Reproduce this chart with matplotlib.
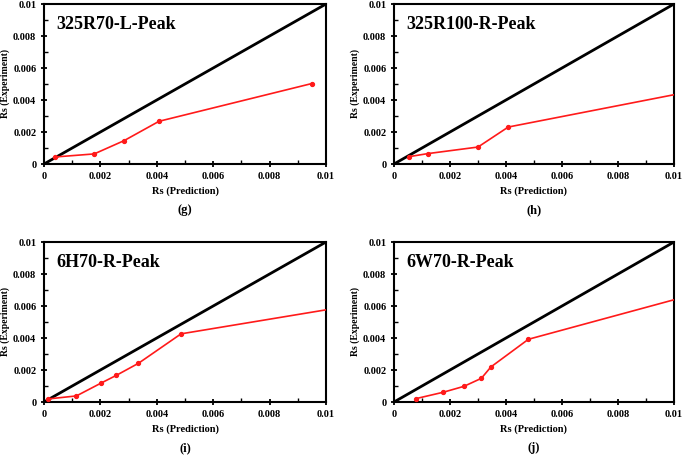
import matplotlib
matplotlib.use('Agg')
import matplotlib.pyplot as plt
from matplotlib.ticker import MultipleLocator, FixedFormatter, FixedLocator
import numpy as np

plt.rcParams['font.family'] = ['Liberation Serif', 'DejaVu Serif']
plt.rcParams['font.weight'] = 'bold'

titles = ['325R70-L-Peak', '325R100-R-Peak', '6H70-R-Peak', '6W70-R-Peak']
captions = ['(g)', '(h)', '(i)', '(j)']

# predicted vs experimental Rs, last point is where the line leaves the frame
g_x = [0.0004, 0.00178, 0.00284, 0.00408, 0.0095]
g_y = [0.00044, 0.00063, 0.00146, 0.00267, 0.00503]
h_x = [0.00054, 0.00121, 0.0030, 0.00408, 0.01]
h_y = [0.00046, 0.00065, 0.00106, 0.00231, 0.00433]
i_x = [0.00014, 0.00115, 0.00201, 0.00257, 0.00335, 0.00486, 0.01]
i_y = [0.00019, 0.00038, 0.00117, 0.00167, 0.00242, 0.00426, 0.00576]
j_x = [0.00078, 0.00176, 0.0025, 0.00312, 0.00346, 0.0048, 0.01]
j_y = [0.00021, 0.00061, 0.00098, 0.00148, 0.00219, 0.00392, 0.00639]
markers_on = [5, 4, 6, 6]

tick_vals = [0, 0.002, 0.004, 0.006, 0.008, 0.01]
tick_labels = ['0', '0.002', '0.004', '0.006', '0.008', '0.01']

series = [(g_x, g_y), (h_x, h_y), (i_x, i_y), (j_x, j_y)]
boxes = [
    [44/685, 1-164/457, 282/685, 160/457],
    [394/685, 1-164/457, 280/685, 160/457],
    [44/685, 1-402/457, 282/685, 160/457],
    [394/685, 1-402/457, 280/685, 160/457],
]

fig = plt.figure(figsize=(6.85, 4.57), dpi=100)

for k in range(4):
    ax = fig.add_axes(boxes[k])
    xs, ys = series[k]
    ax.plot([0, 0.01], [0, 0.01], color='black', lw=2.0, zorder=2)
    ax.plot(xs, ys, color='#ff1a1a', lw=1.2, marker='o', ms=2.8,
            markevery=list(range(markers_on[k])), zorder=3, clip_on=True)
    ax.set_xlim(0, 0.01)
    ax.set_ylim(0, 0.01)
    ax.xaxis.set_major_locator(FixedLocator(tick_vals))
    ax.xaxis.set_major_formatter(FixedFormatter(tick_labels))
    ax.yaxis.set_major_locator(FixedLocator(tick_vals))
    ax.yaxis.set_major_formatter(FixedFormatter(tick_labels))
    ax.xaxis.set_minor_locator(MultipleLocator(0.001))
    ax.yaxis.set_minor_locator(MultipleLocator(0.001))
    ax.tick_params(which='major', direction='inout', length=5, width=1.3,
                   labelsize=7.5, pad=3)
    ax.tick_params(which='minor', direction='in', length=3, width=1.0)
    for lab in ax.get_xticklabels() + ax.get_yticklabels():
        lab.set_fontweight('bold')
    for sp in ax.spines.values():
        sp.set_linewidth(1.5)
    ax.set_xlabel('Rs (Prediction)', fontsize=7.5, fontweight='bold', labelpad=4)
    ax.set_ylabel('Rs (Experiment)', fontsize=7, fontweight='bold')
    ax.yaxis.set_label_coords(-0.122, 0.5)
    ax.text(0.045, 0.87, titles[k], transform=ax.transAxes, fontsize=13,
            fontweight='bold', va='center', ha='left')
    ax.text(0.5, -0.29, captions[k], transform=ax.transAxes, fontsize=9,
            fontweight='bold', va='center', ha='center')

fig.savefig('out.png', dpi=100)
